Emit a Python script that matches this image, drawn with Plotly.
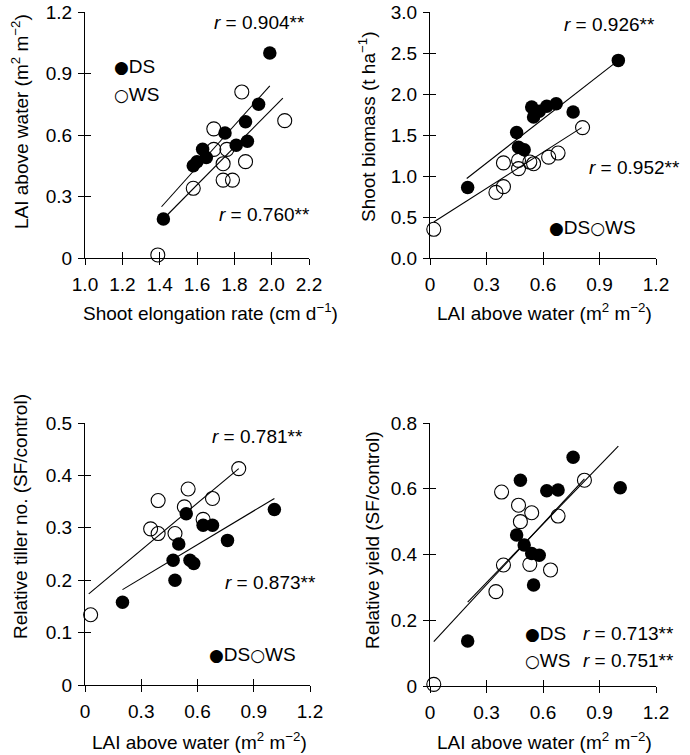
import plotly.graph_objects as go

# ---- panel a : shoot elongation rate vs LAI above water
a_ds_x = [1.42, 1.58, 1.60, 1.63, 1.65, 1.75, 1.81, 1.87, 1.86, 1.93, 1.99]
a_ds_y = [0.19, 0.45, 0.47, 0.53, 0.49, 0.61, 0.55, 0.57, 0.665, 0.75, 1.00]
a_ws_x = [1.39, 1.58, 1.69, 1.69, 1.76, 1.74, 1.74, 1.79, 1.86, 1.84, 2.07]
a_ws_y = [0.015, 0.34, 0.63, 0.53, 0.53, 0.46, 0.38, 0.38, 0.47, 0.81, 0.67]
a_ds_fit_x, a_ds_fit_y = [1.41, 1.99], [0.25, 0.84]
a_ws_fit_x, a_ws_fit_y = [1.43, 2.06], [0.20, 0.78]

# ---- panel b : LAI above water vs shoot biomass
b_ds_x = [0.20, 0.46, 0.47, 0.50, 0.54, 0.55, 0.58, 0.62, 0.67, 0.76, 1.00]
b_ds_y = [0.86, 1.53, 1.35, 1.32, 1.84, 1.72, 1.79, 1.85, 1.88, 1.78, 2.41]
b_ws_x = [0.02, 0.35, 0.39, 0.39, 0.47, 0.47, 0.53, 0.55, 0.63, 0.68, 0.81]
b_ws_y = [0.35, 0.80, 0.87, 1.16, 1.09, 1.19, 1.17, 1.15, 1.23, 1.28, 1.59]
b_ds_fit_x, b_ds_fit_y = [0.195, 1.0], [0.97, 2.41]
b_ws_fit_x, b_ws_fit_y = [0.02, 0.805], [0.44, 1.59]

# ---- panel c : LAI above water vs relative tiller no.
c_ds_x = [0.20, 0.47, 0.48, 0.50, 0.54, 0.56, 0.58, 0.63, 0.68, 0.76, 1.01]
c_ds_y = [0.158, 0.238, 0.200, 0.269, 0.327, 0.238, 0.232, 0.305, 0.305, 0.276, 0.335]
c_ws_x = [0.03, 0.35, 0.39, 0.39, 0.48, 0.53, 0.55, 0.63, 0.68, 0.82]
c_ws_y = [0.134, 0.298, 0.352, 0.289, 0.289, 0.340, 0.374, 0.316, 0.356, 0.413]
c_ds_fit_x, c_ds_fit_y = [0.20, 1.01], [0.182, 0.356]
c_ws_fit_x, c_ws_fit_y = [0.02, 0.82], [0.174, 0.413]

# ---- panel d : LAI above water vs relative yield
d_ds_x = [0.20, 0.46, 0.48, 0.50, 0.54, 0.55, 0.58, 0.62, 0.68, 0.76, 1.01]
d_ds_y = [0.137, 0.459, 0.626, 0.429, 0.403, 0.307, 0.398, 0.594, 0.596, 0.696, 0.603]
d_ws_x = [0.02, 0.35, 0.38, 0.39, 0.47, 0.48, 0.53, 0.54, 0.64, 0.68, 0.82]
d_ws_y = [0.005, 0.287, 0.590, 0.368, 0.550, 0.500, 0.370, 0.527, 0.353, 0.517, 0.626]
d_ds_fit_x, d_ds_fit_y = [0.20, 1.00], [0.255, 0.73]
d_ws_fit_x, d_ws_fit_y = [0.02, 0.82], [0.135, 0.63]

W, H = 690, 755
FONT = "Liberation Sans, Arial, sans-serif"
FS = 19


def px(x):
    # pixel -> paper fraction
    return x / W


def py(y):
    return 1 - y / H


fig = go.Figure()

panels = [
    ("x", "y", a_ds_x, a_ds_y, a_ws_x, a_ws_y, a_ds_fit_x, a_ds_fit_y, a_ws_fit_x, a_ws_fit_y),
    ("x2", "y2", b_ds_x, b_ds_y, b_ws_x, b_ws_y, b_ds_fit_x, b_ds_fit_y, b_ws_fit_x, b_ws_fit_y),
    ("x3", "y3", c_ds_x, c_ds_y, c_ws_x, c_ws_y, c_ds_fit_x, c_ds_fit_y, c_ws_fit_x, c_ws_fit_y),
    ("x4", "y4", d_ds_x, d_ds_y, d_ws_x, d_ws_y, d_ds_fit_x, d_ds_fit_y, d_ws_fit_x, d_ws_fit_y),
]

for i, (xa, ya, dsx, dsy, wsx, wsy, dfx, dfy, wfx, wfy) in enumerate(panels, start=1):
    # open circles (WS)
    fig.add_trace(go.Scatter(
        x=wsx, y=wsy, xaxis=xa, yaxis=ya, mode="markers",
        marker=dict(symbol="circle-open", size=14, color="black", line=dict(width=1.1)),
        cliponaxis=False, showlegend=False
    ))
    # filled circles (DS)
    fig.add_trace(go.Scatter(
        x=dsx, y=dsy, xaxis=xa, yaxis=ya, mode="markers",
        marker=dict(symbol="circle", size=13.5, color="black"),
        cliponaxis=False, showlegend=False
    ))
    # regression lines
    for fx, fy in [(dfx, dfy), (wfx, wfy)]:
        fig.add_trace(go.Scatter(
            x=fx, y=fy, xaxis=xa, yaxis=ya, mode="lines",
            line=dict(color="black", width=1.1),
            cliponaxis=False, showlegend=False
        ))
    # empty traces so the overlay axes (inner half of the ticks) get drawn
    fig.add_trace(go.Scatter(x=[], y=[], xaxis="x" + str(i + 4), yaxis=ya, showlegend=False))
    fig.add_trace(go.Scatter(x=[], y=[], xaxis=xa, yaxis="y" + str(i + 4), showlegend=False))

# =========================
# AXES
# =========================
tickfont = dict(family=FONT, size=FS, color="black")

x_dom = {1: [px(85), px(309)], 2: [px(430), px(656)], 3: [px(85), px(310)], 4: [px(430), px(656)]}
y_dom = {1: [py(258), py(12)], 2: [py(258), py(12)], 3: [py(685), py(423)], 4: [py(686), py(423)]}

x_cfg = {
    1: dict(range=[1.0, 2.2], dtick=0.2, tickformat=".1f"),
    2: dict(range=[0, 1.2], dtick=0.3),
    3: dict(range=[0, 1.2], dtick=0.3),
    4: dict(range=[0, 1.2], dtick=0.3),
}
y_cfg = {
    1: dict(range=[0, 1.2], dtick=0.3),
    2: dict(range=[0, 3.0], dtick=0.5, tickformat=".1f"),
    3: dict(range=[0, 0.5], dtick=0.1),
    4: dict(range=[0, 0.8], dtick=0.2),
}

layout_axes = {}
for i in range(1, 5):
    sx = "" if i == 1 else str(i)
    xc, yc = x_cfg[i], y_cfg[i]
    common = dict(showline=True, linecolor="black", linewidth=1, ticks="outside", ticklen=6,
                  tickcolor="black", tickwidth=1, showgrid=False, zeroline=False,
                  tickfont=tickfont, automargin=False, ticklabeloverflow="allow")
    layout_axes["xaxis" + sx] = dict(
        domain=x_dom[i], anchor="y" + sx, range=xc["range"], dtick=xc["dtick"],
        tick0=xc["range"][0], tickformat=xc.get("tickformat"), ticklabelstandoff=3, **common
    )
    layout_axes["yaxis" + sx] = dict(
        domain=y_dom[i], anchor="x" + sx, range=yc["range"], dtick=yc["dtick"], tick0=0,
        tickformat=yc.get("tickformat"), ticklabelstandoff=2, **common
    )
    inner = dict(ticks="inside", ticklen=6, tickcolor="black", tickwidth=1,
                 showticklabels=False, showline=False, showgrid=False, zeroline=False,
                 automargin=False)
    layout_axes["xaxis" + str(i + 4)] = dict(
        domain=x_dom[i], anchor="y" + sx, overlaying="x" + sx, range=xc["range"],
        dtick=xc["dtick"], tick0=xc["range"][0], **inner
    )
    layout_axes["yaxis" + str(i + 4)] = dict(
        domain=y_dom[i], anchor="x" + sx, overlaying="y" + sx, range=yc["range"],
        dtick=yc["dtick"], tick0=0, **inner
    )

fig.update_layout(**layout_axes)

# =========================
# AXIS TITLES
# =========================
lai = "LAI above water (m<sup>2</sup> m<sup>−2</sup>)"
x_titles = [
    ("Shoot elongation rate (cm d<sup>−1</sup>)", 210, 312),
    (lai, 544, 312),
    (lai, 199, 741),
    (lai, 544, 741),
]
y_titles = [
    (lai, 20, 122),
    ("Shoot biomass (t ha<sup>−1</sup>)", 367, 127),
    ("Relative tiller no. (SF/control)", 20, 517),
    ("Relative yield (SF/control)", 372, 540),
]
for t, x, y in x_titles:
    fig.add_annotation(text=t, x=px(x), y=py(y), xref="paper", yref="paper",
                       xanchor="center", yanchor="middle", showarrow=False, font=tickfont)
for t, x, y in y_titles:
    fig.add_annotation(text=t, x=px(x), y=py(y), xref="paper", yref="paper", textangle=-90,
                       xanchor="center", yanchor="middle", showarrow=False, font=tickfont)

# =========================
# r VALUES AND KEYS
# =========================
DOT = '<span style="font-family:DejaVu Sans;font-size:17px">●</span>'
RING = '<span style="font-family:DejaVu Sans;font-size:17px">○</span>'
texts = [
    # (text, left x px, centre y px)
    ("<i>r</i> = 0.904**", 212, 22),
    ("<i>r</i> = 0.760**", 217, 214),
    (DOT + "DS", 112, 66),
    (RING + "WS", 112, 94),
    ("<i>r</i> = 0.926**", 562, 25),
    ("<i>r</i> = 0.952**", 587, 168),
    (DOT + "DS" + RING + "WS", 547, 227),
    ("<i>r</i> = 0.781**", 210, 436),
    ("<i>r</i> = 0.873**", 223, 582),
    (DOT + "DS" + RING + "WS", 207, 654),
    (DOT + "DS", 523, 633),
    (RING + "WS", 523, 660),
    ("<i>r</i> = 0.713**", 581, 633),
    ("<i>r</i> = 0.751**", 581, 660),
]
for t, x, y in texts:
    fig.add_annotation(
        text=t, x=px(x), y=py(y), xref="paper", yref="paper",
        xanchor="left", yanchor="middle", showarrow=False, font=tickfont
    )

fig.update_layout(
    width=W, height=H,
    margin=dict(l=0, r=0, t=0, b=0),
    paper_bgcolor="white", plot_bgcolor="white",
    font=dict(family=FONT, size=FS, color="black"),
    showlegend=False,
)

# drop the default 8 px page margin so the figure sits at the window's corner
fig.write_html(
    "out.html",
    config={"displayModeBar": False},
    post_script="document.body.style.margin = '0px';",
)
